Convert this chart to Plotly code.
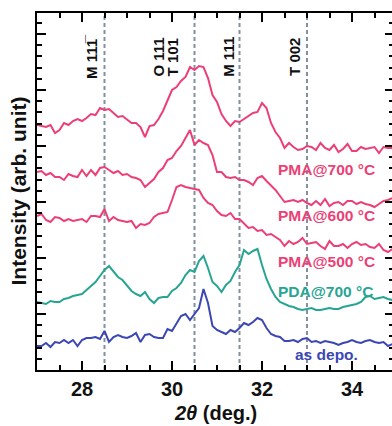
import numpy as np
import plotly.graph_objects as go

# 2theta sampling grid (deg.)
two_theta = np.round(np.arange(27.0, 34.95, 0.1), 2)

pma700 = [245, 244, 243, 245, 237, 240, 247, 245, 249, 251,
          249, 252, 256, 255, 262, 260, 261, 257, 253, 254,
          250, 247, 247, 243, 233, 244, 245, 251, 259, 270,
          280, 283, 289, 293, 303, 300, 304, 303, 292, 275,
          268, 256, 249, 244, 249, 248, 251, 254, 257, 258,
          267, 262, 247, 238, 232, 222, 227, 223, 220, 221,
          224, 223, 220, 227, 222, 220, 225, 218, 221, 226,
          219, 219, 223, 221, 222, 223, 217, 223, 222, 222]

pma600 = [198, 199, 195, 197, 193, 193, 190, 196, 194, 193,
          200, 194, 200, 195, 202, 203, 200, 197, 199, 195,
          196, 193, 192, 190, 183, 187, 191, 198, 202, 210,
          212, 219, 224, 232, 240, 225, 230, 227, 225, 215,
          198, 198, 193, 192, 193, 190, 190, 188, 185, 192,
          194, 189, 185, 180, 174, 168, 169, 170, 168, 170,
          167, 165, 169, 165, 171, 164, 167, 168, 165, 169,
          169, 166, 168, 166, 165, 163, 166, 169, 170, 172]

pma500 = [154, 156, 150, 148, 153, 152, 149, 151, 149, 150,
          151, 148, 154, 154, 153, 161, 149, 153, 150, 149,
          148, 149, 142, 146, 145, 147, 153, 156, 157, 158,
          170, 183, 185, 183, 182, 181, 180, 172, 167, 165,
          159, 155, 154, 157, 151, 151, 146, 142, 143, 139,
          140, 135, 136, 133, 130, 124, 129, 126, 128, 132,
          126, 127, 128, 124, 121, 129, 124, 124, 126, 122,
          126, 128, 125, 126, 123, 122, 126, 120, 118, 121]

pda700 = [68, 67, 66, 69, 68, 68, 71, 72, 74, 75,
          76, 80, 84, 88, 94, 100, 104, 99, 93, 90,
          84, 79, 76, 74, 78, 71, 67, 72, 73, 73,
          79, 82, 87, 95, 100, 98, 109, 114, 102, 88,
          84, 78, 85, 89, 98, 105, 120, 116, 119, 121,
          105, 91, 81, 73, 68, 66, 64, 63, 61, 60,
          61, 62, 60, 60, 61, 62, 61, 61, 63, 64,
          65, 66, 68, 73, 74, 71, 72, 73, 71, 70]

as_depo = [24, 24, 27, 23, 28, 27, 30, 27, 30, 24,
           30, 32, 32, 33, 31, 39, 28, 33, 35, 33,
           32, 34, 37, 28, 35, 36, 33, 32, 32, 41,
           39, 47, 54, 56, 50, 56, 62, 81, 67, 44,
           40, 38, 36, 40, 38, 42, 47, 45, 48, 52,
           50, 42, 36, 34, 33, 29, 29, 30, 28, 31,
           32, 28, 29, 27, 29, 28, 27, 25, 27, 28,
           30, 28, 27, 29, 30, 28, 27, 28, 24, 26]

series_names = ["PMA@700 °C", "PMA@600 °C", "PMA@500 °C", "PDA@700 °C", "as depo."]
series_values = [pma700, pma600, pma500, pda700, as_depo]
series_colors = ["#ec3f76", "#ec3f76", "#ec3f76", "#27a592", "#3c47b3"]

ref_positions = [28.5, 30.5, 31.5, 33.0]
ref_labels = [("M 111\u0305", 28.2), ("O 111", 29.68), ("T 101", 30.01),
              ("M 111", 31.24), ("T 002", 32.71)]

label_pos = [(34.556, 201), (34.556, 155), (34.556, 109), (34.51, 79), (34.178, 16)]

FONT = "Liberation Sans, Arial, sans-serif"
X0, X1 = 27.0, 27.0 + 355 / 45
Y0, Y1 = 0, 357

fig = go.Figure()
for name, vals, col in zip(series_names, series_values, series_colors):
    fig.add_trace(go.Scatter(x=two_theta, y=vals, mode="lines", name=name,
                             line=dict(color=col, width=2), showlegend=False,
                             hoverinfo="skip"))
# helper trace for right-hand tick axis
fig.add_trace(go.Scatter(x=[X0], y=[Y0], yaxis="y2", mode="markers",
                         marker=dict(opacity=0), showlegend=False, hoverinfo="skip"))

for xp in ref_positions:
    fig.add_shape(type="line", x0=xp, x1=xp, y0=0, y1=1, xref="x", yref="paper",
                  line=dict(color="#8390a0", width=2, dash="4px,3px"), layer="below")

for txt, xp in ref_labels:
    fig.add_annotation(x=xp, y=313, text="<b>" + txt + "</b>", textangle=-90,
                       showarrow=False, xanchor="center", yanchor="middle",
                       font=dict(family=FONT, size=15, color="#111111"))

for name, (xp, yp), col in zip(series_names, label_pos, series_colors):
    fig.add_annotation(x=xp, y=yp, text="<b>" + name + "</b>", showarrow=False,
                       xanchor="right", yanchor="middle",
                       font=dict(family=FONT, size=15.5, color=col))

fig.add_annotation(x=-0.0535, y=0.5, xref="paper", yref="paper",
                   text="<b>Intensity (arb. unit)</b>", textangle=-90, showarrow=False,
                   xanchor="center", yanchor="middle",
                   font=dict(family=FONT, size=21, color="#111111"))
fig.add_annotation(x=0.504, y=-0.1204, xref="paper", yref="paper",
                   text="<b><i>2θ</i> (deg.)</b>", showarrow=False,
                   xanchor="center", yanchor="middle",
                   font=dict(family=FONT, size=20, color="#111111"))

fig.update_layout(
    width=392, height=426,
    margin=dict(l=37, r=0, t=13, b=56),
    paper_bgcolor="white", plot_bgcolor="white",
    xaxis=dict(range=[X0, X1], tick0=28, dtick=2, ticks="inside", ticklen=9,
               tickwidth=2, tickcolor="black", showline=True, linewidth=2,
               linecolor="black", mirror="ticks", showgrid=False, zeroline=False,
               tickfont=dict(family=FONT, size=20, color="#111111", weight="bold"),
               minor=dict(dtick=0.5, tick0=27, ticks="inside", ticklen=5,
                          tickwidth=2, tickcolor="black", showgrid=False)),
    yaxis=dict(range=[Y0, Y1], tick0=0, dtick=56, ticks="inside", ticklen=9,
               tickwidth=2, tickcolor="black", showline=True, linewidth=2,
               linecolor="black", mirror=False, showgrid=False, zeroline=False,
               showticklabels=False,
               minor=dict(dtick=11.2, tick0=0, ticks="inside", ticklen=5,
                          tickwidth=2, tickcolor="black", showgrid=False)),
    yaxis2=dict(range=[Y0, Y1], overlaying="y", side="right", tick0=0, dtick=56,
                ticks="inside", ticklen=7, tickwidth=2, tickcolor="black",
                showline=False, showgrid=False, zeroline=False, showticklabels=False,
                minor=dict(dtick=11.2, tick0=0, ticks="inside", ticklen=3,
                           tickwidth=2, tickcolor="black", showgrid=False)),
)

fig.write_html("out.html")
